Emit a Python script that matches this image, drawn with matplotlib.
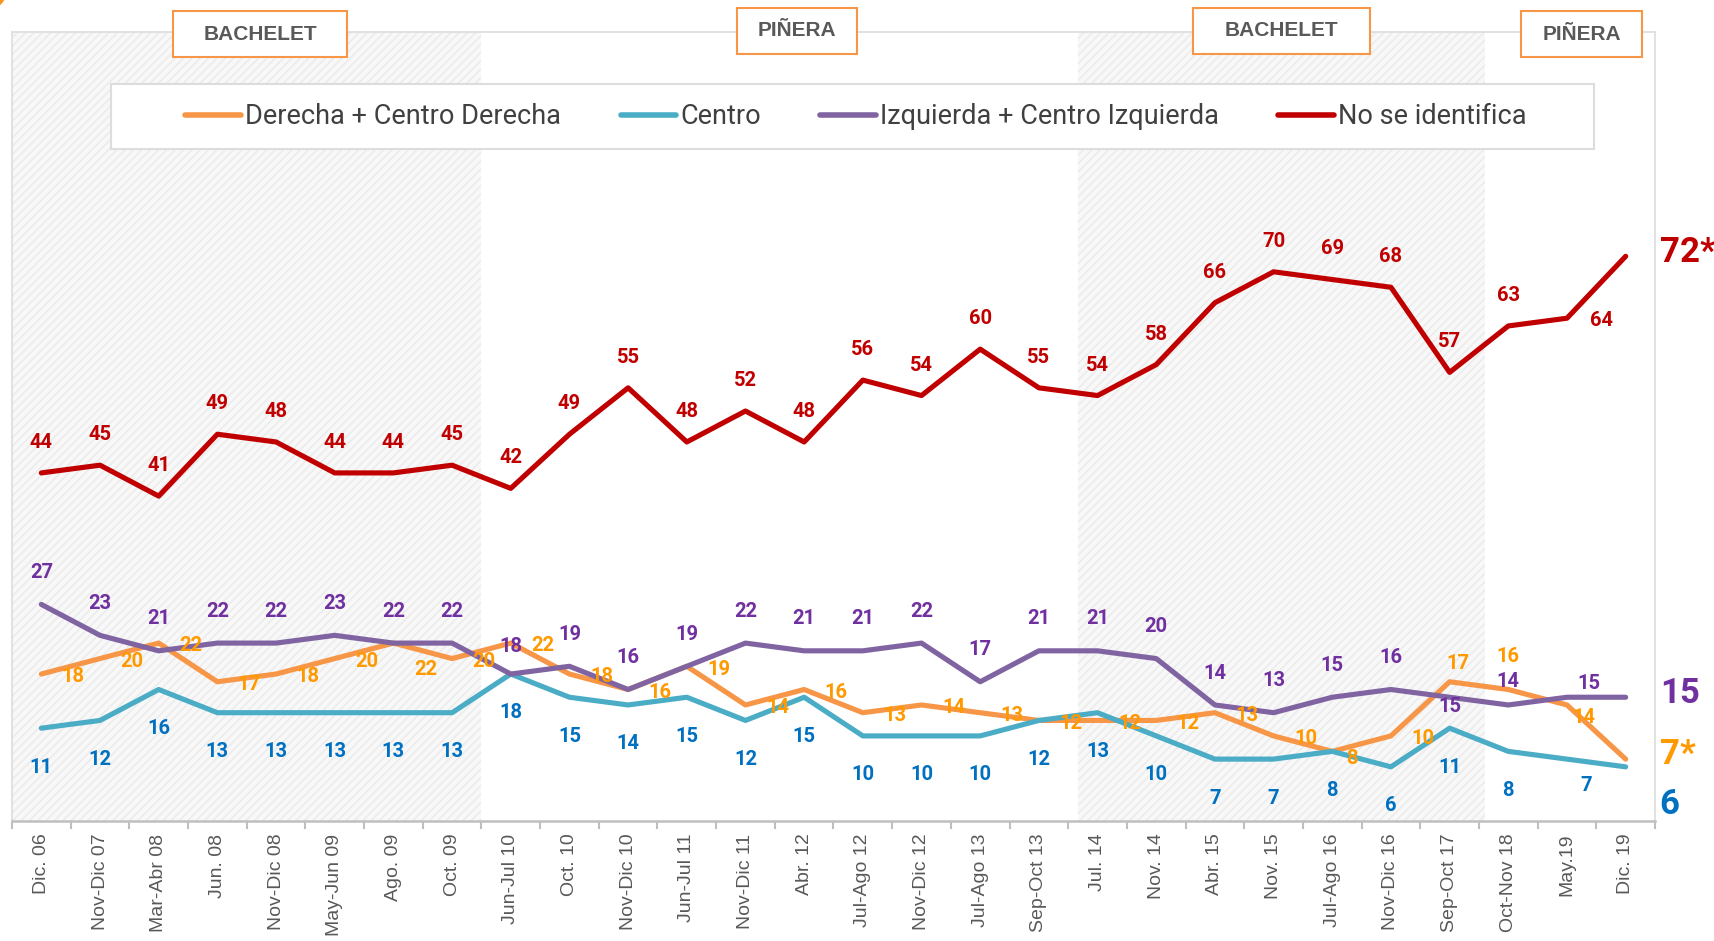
import numpy as np
import matplotlib.pyplot as plt
from matplotlib.patches import Rectangle, Ellipse

plt.switch_backend('Agg')

# Datos (%)
periodos = ['Dic. 06', 'Nov-Dic 07', 'Mar-Abr 08', 'Jun. 08', 'Nov-Dic 08', 'May-Jun 09',
            'Ago. 09', 'Oct. 09', 'Jun-Jul 10', 'Oct. 10', 'Nov-Dic 10', 'Jun-Jul 11',
            'Nov-Dic 11', 'Abr. 12', 'Jul-Ago 12', 'Nov-Dic 12', 'Jul-Ago 13', 'Sep-Oct 13',
            'Jul. 14', 'Nov. 14', 'Abr. 15', 'Nov. 15', 'Jul-Ago 16', 'Nov-Dic 16',
            'Sep-Oct 17', 'Oct-Nov 18', 'May.19', 'Dic. 19']
derecha = [18, 20, 22, 17, 18, 20, 22, 20, 22, 18, 16, 19, 14, 16, 13, 14, 13, 12, 12, 12,
           13, 10, 8, 10, 17, 16, 14, 7]
centro = [11, 12, 16, 13, 13, 13, 13, 13, 18, 15, 14, 15, 12, 15, 10, 10, 10, 12, 13, 10,
          7, 7, 8, 6, 11, 8, 7, 6]
izquierda = [27, 23, 21, 22, 22, 23, 22, 22, 18, 19, 16, 19, 22, 21, 21, 22, 17, 21, 21, 20,
             14, 13, 15, 16, 15, 14, 15, 15]
no_identifica = [44, 45, 41, 49, 48, 44, 44, 45, 42, 49, 55, 48, 52, 48, 56, 54, 60, 55, 54, 58,
                 66, 70, 69, 68, 57, 63, 64, 72]

nombres = ['Derecha + Centro Derecha', 'Centro', 'Izquierda + Centro Izquierda', 'No se identifica']
gobiernos = ['BACHELET', 'PIÑERA', 'BACHELET', 'PIÑERA']
marca_final = ['*', '', '', '*']

W, H = 1715, 941
FONT = 'Roboto'

fig = plt.figure(figsize=(W / 100, H / 100), dpi=100)
ax = fig.add_axes([12 / W, 1 - 821 / H, (1655 - 12) / W, (821 - 32) / H])
x = np.arange(len(periodos))

# zonas sombreadas (gobiernos Bachelet)
plt.rcParams['hatch.linewidth'] = 1.1
for a, b in [(-0.5, 7.5), (17.67, 24.6)]:
    ax.axvspan(a, b, facecolor='#F8F8F8', edgecolor='#EBEBEB', hatch='////', linewidth=0, zorder=0)

series = [derecha, centro, izquierda, no_identifica]
colores_linea = ['#F79646', '#4BACC6', '#8064A2', '#C00000']
colores_texto = ['#FF9900', '#0070C0', '#7030A0', '#C00000']
# desplazamiento por defecto de las etiquetas (pt) y excepciones
desp = [(23, -2), (0, -28), (0, 23), (0, 22)]
excep = [
    {6: (23, -19), 22: (14, -5), 24: (6, 13), 25: (0, 24), 26: (12, -9)},
    {26: (14, -19)},
    {8: (0, 20), 24: (0, -7), 25: (0, 17), 26: (16, 10)},
    {26: (25, -2)},
]
desp_final = [3, -27, 3, 3]

lineas = []
for s, vals in enumerate(series):
    ln, = ax.plot(x, vals, color=colores_linea[s], lw=3.7, solid_joinstyle='round',
                  solid_capstyle='round', zorder=3, label=nombres[s])
    lineas.append(ln)
    for i, v in enumerate(vals[:-1]):
        dx, dy = excep[s].get(i, desp[s])
        ax.annotate(str(v), (i, v), xytext=(dx, dy), textcoords='offset points',
                    ha='center', va='center', fontsize=14.5, fontweight='bold',
                    family=FONT, color=colores_texto[s], zorder=4)
    ax.annotate(f'{vals[-1]}{marca_final[s]}', (x[-1], vals[-1]), xytext=(24.5, desp_final[s]),
                textcoords='offset points', ha='left', va='center', fontsize=25,
                fontweight='bold', family=FONT, color=colores_texto[s], annotation_clip=False)

ax.set_xlim(-0.5, len(periodos) - 0.5)
ax.set_ylim(-1, 101)
ax.set_yticks([])
ax.set_xticks(x)
ax.set_xticklabels(periodos, rotation=90, fontsize=14, color='#595959', family='Liberation Sans')
ax.set_xticks(np.arange(-0.5, len(periodos)), minor=True)
ax.tick_params(axis='x', which='major', length=0, pad=9)
ax.tick_params(axis='x', which='minor', length=6, width=1.5, color='#BFBFBF')
for lado in ['left', 'top', 'right']:
    ax.spines[lado].set_color('#DDDDDD')
    ax.spines[lado].set_linewidth(1.2)
ax.spines['bottom'].set_color('#BFBFBF')
ax.spines['bottom'].set_linewidth(1.8)

# leyenda con marco propio
fig.patches.append(Rectangle((111 / W, 1 - 149 / H), (1594 - 111) / W, 65 / H,
                             transform=fig.transFigure, facecolor='white',
                             edgecolor='#DDDDDD', lw=1.5, zorder=1))
leg = fig.legend(handles=lineas, loc='center', bbox_to_anchor=(856 / W, 1 - 117 / H), ncol=4,
                 frameon=False, handlelength=2.05, handletextpad=0.15, columnspacing=2.2,
                 prop={'family': FONT, 'size': 19.5})
leg.set_zorder(5)
for t in leg.get_texts():
    t.set_color('#404040')
for h in leg.legend_handles:
    h.set_linewidth(4)

# recuadros de gobierno (x0, x1, y0, y1 en pixeles)
cajas = [(173, 347, 11, 57), (737, 857, 8, 54), (1193, 1370, 8, 54), (1521, 1642, 11, 57)]
for nombre, (x0, x1, y0, y1) in zip(gobiernos, cajas):
    fig.patches.append(Rectangle((x0 / W, 1 - y1 / H), (x1 - x0) / W, (y1 - y0) / H,
                                 transform=fig.transFigure, facecolor='white',
                                 edgecolor='#F79646', lw=1.5, zorder=1))
    fig.text((x0 + x1) / 2 / W, 1 - (y0 + y1) / 2 / H, nombre, ha='center', va='center',
             fontsize=15, fontweight='bold', color='#595959', family='Liberation Sans', zorder=2)

# adorno naranja de la esquina
fig.patches.append(Ellipse((-13 / W, 1 + 10 / H), 40 / W, 40 / H, transform=fig.transFigure,
                           facecolor='#F7941D', edgecolor='none', zorder=1))

fig.savefig('out.png', dpi=100)
plt.close(fig)
